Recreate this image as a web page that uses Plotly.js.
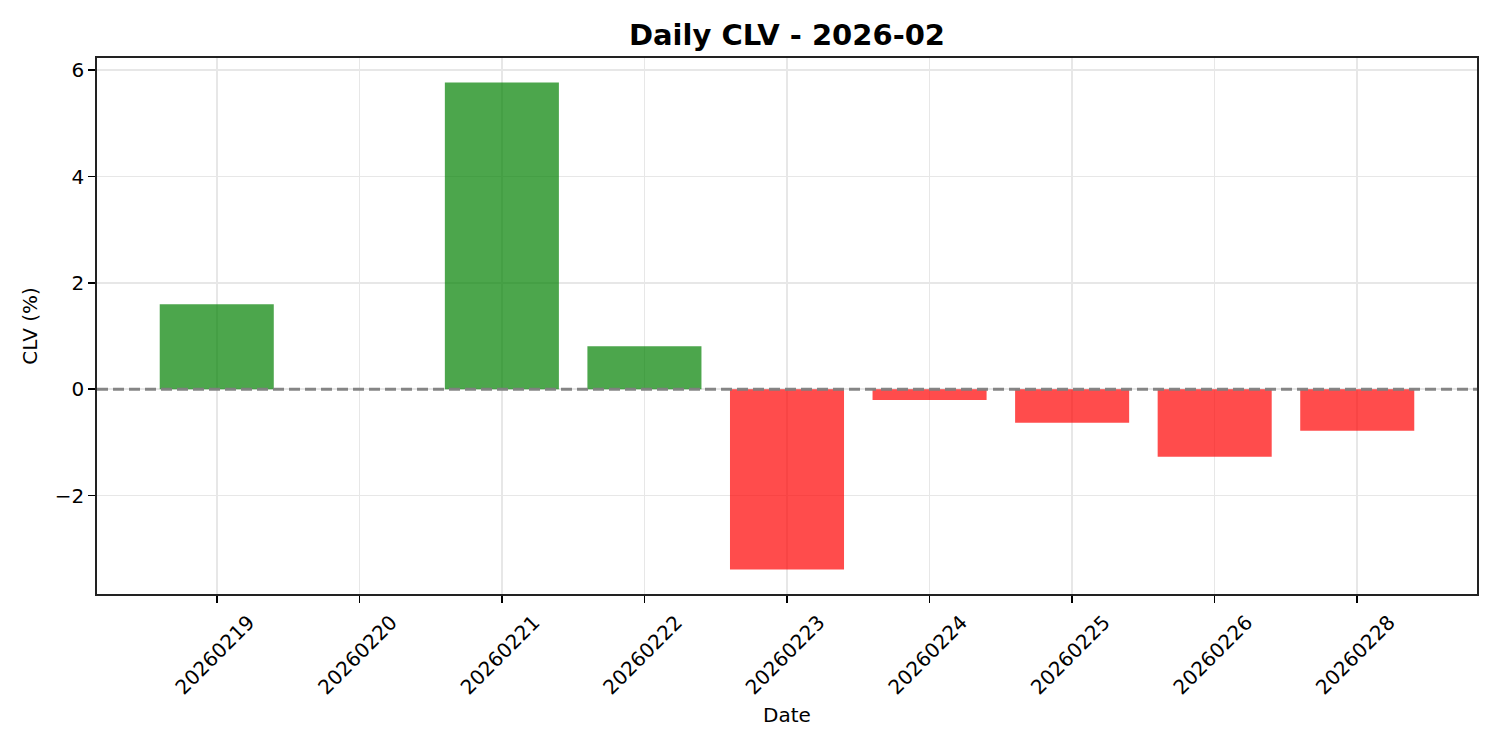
<!DOCTYPE html>
<html>
<head>
<meta charset="utf-8">
<script src="https://cdn.plot.ly/plotly-3.0.1.min.js"></script>
<style>
  html, body { margin: 0; padding: 0; background: #fff; }
  #graph { width: 1500px; height: 750px; }
</style>
</head>
<body>
<div id="graph"></div>
<script>
const dates = ['20260219', '20260220', '20260221', '20260222', '20260223', '20260224', '20260225', '20260226', '20260228']
const clv = [1.60, 0.0, 5.77, 0.81, -3.39, -0.20, -0.63, -1.27, -0.78]
const yTicks = [-2, 0, 2, 4, 6]
const yTickText = ['\u22122', '0', '2', '4', '6']

const barColors = clv.map(v => (v >= 0 ? 'rgba(0,128,0,0.7)' : 'rgba(255,0,0,0.7)'))

const font = 'DejaVu Sans, Arial, sans-serif'

Plotly.newPlot(
  'graph',
  [
    {
      x: dates,
      y: clv,
      type: 'bar',
      marker: { color: barColors, line: { width: 0 } },
      hoverinfo: 'none'
    }
  ],
  {
    width: 1500,
    height: 750,
    margin: { l: 97, r: 23, t: 58, b: 156 },
    paper_bgcolor: '#ffffff',
    plot_bgcolor: '#ffffff',
    bargap: 0.2,
    showlegend: false,
    font: { family: font, size: 20, color: '#000' },
    title: {
      text: '<b>Daily CLV - 2026-02</b>',
      font: { family: font, size: 29, color: '#000' },
      x: 0.5,
      xref: 'paper',
      y: 1 - 35 / 750,
      yanchor: 'middle'
    },
    xaxis: {
      type: 'category',
      range: [-0.84, 8.84],
      tickangle: -45,
      ticklabelshift: 32,
      ticks: 'outside',
      ticklen: 7,
      tickwidth: 1.6,
      tickcolor: '#000',
      tickfont: { family: font, size: 20, color: '#000' },
      showgrid: true,
      gridcolor: '#e7e7e7',
      gridwidth: 1.6,
      showline: true,
      linecolor: '#222',
      linewidth: 1.7,
      mirror: true,
      zeroline: false,
      automargin: false,
      title: { text: 'Date', font: { family: font, size: 20, color: '#000' }, standoff: 10 }
    },
    yaxis: {
      range: [-3.85, 6.23],
      tickvals: yTicks,
      ticktext: yTickText,
      ticks: 'outside',
      ticklen: 7,
      tickwidth: 1.6,
      tickcolor: '#000',
      tickfont: { family: font, size: 20, color: '#000' },
      showgrid: true,
      gridcolor: '#e7e7e7',
      gridwidth: 1.6,
      showline: true,
      linecolor: '#222',
      linewidth: 1.7,
      mirror: true,
      zeroline: false,
      automargin: false,
      title: { text: 'CLV (%)', font: { family: font, size: 20, color: '#000' }, standoff: 12 }
    },
    shapes: [
      {
        type: 'line',
        xref: 'paper',
        yref: 'y',
        x0: 0,
        x1: 1,
        y0: 0,
        y1: 0,
        layer: 'above',
        line: { color: 'rgba(128,128,128,0.95)', width: 3, dash: '11px,5px' }
      }
    ]
  },
  { staticPlot: true, displayModeBar: false }
)
</script>
</body>
</html>
